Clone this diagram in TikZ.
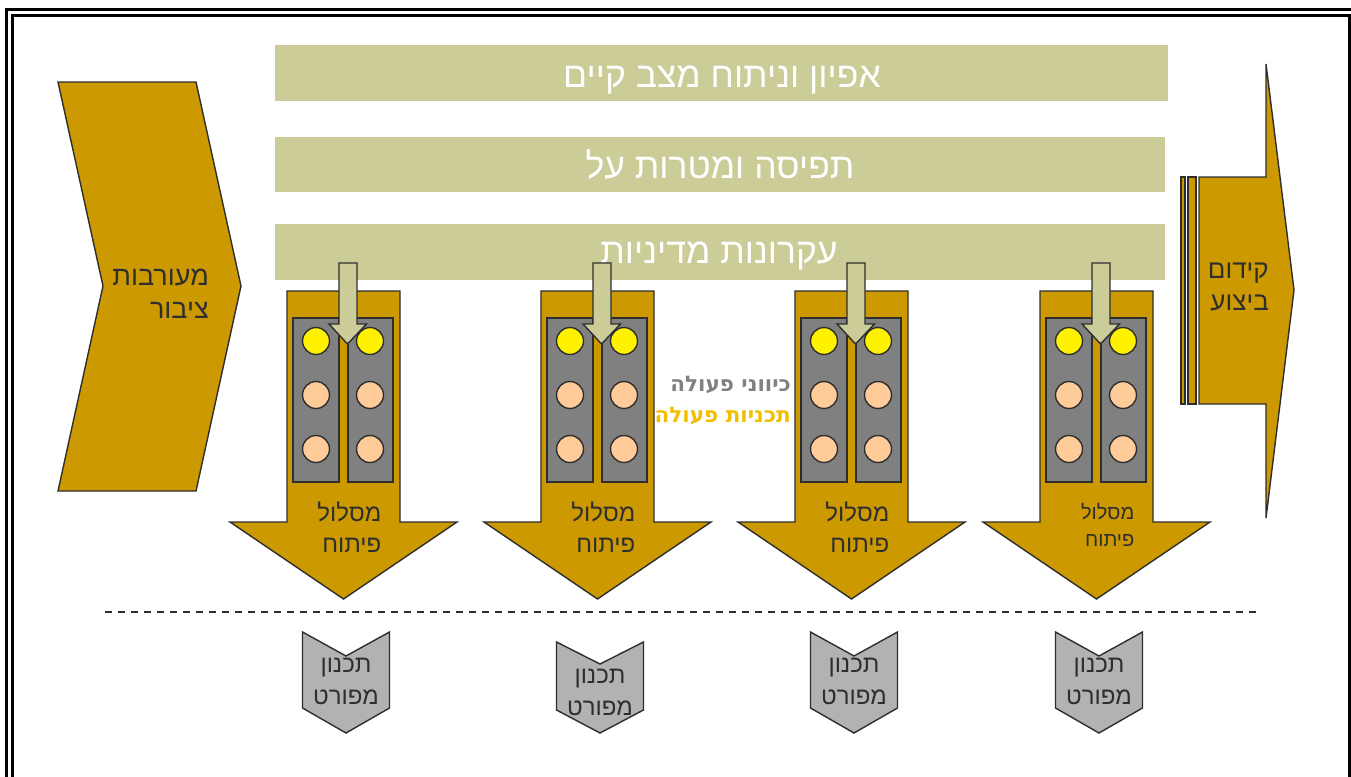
\documentclass[tikz,border=0pt]{standalone}
\usepackage{fontspec}
\setmainfont[Script=Hebrew, BoldFont={Liberation Sans Bold}]{Liberation Sans}
\newfontfamily\labelfont[Script=Hebrew]{DejaVu Sans}
\TeXXeTstate=1
\newcommand\heb[1]{\beginR #1\endR}
\definecolor{gold}{HTML}{CC9900}
\definecolor{khaki}{HTML}{CCCC99}
\definecolor{panel}{HTML}{808080}
\definecolor{peach}{HTML}{FFCC99}
\definecolor{chip}{HTML}{B2B2B2}
\definecolor{ink}{HTML}{2E2E2E}
\definecolor{planyellow}{HTML}{F2BE00}
\definecolor{dirgray}{HTML}{808080}
\tikzset{
  outline/.style={draw=ink, line width=1.4pt, line join=miter},
  goldshape/.style={outline, fill=gold},
  bandbox/.style={fill=khaki},
  bandtext/.style={text=white, font=\fontsize{35.5}{40}\selectfont, inner sep=0pt, anchor=base},
  shapetext/.style={text=ink, align=right, inner sep=0pt},
  paneldot/.style={outline, fill=#1},
  actiontext/.style={anchor=east, inner sep=0pt, font=\labelfont\bfseries\fontsize{21.5}{26}\selectfont},
}
\begin{document}
\begin{tikzpicture}[x=1pt, y=-1pt]
\useasboundingbox (0,0) rectangle (1351,776);
\clip (0,0) rectangle (1351,776);
\fill[white] (0,0) rectangle (1351,776);

% page frame
\draw[line width=3pt] (6.5,790) -- (6.5,9.5) -- (1370,9.5);
\draw[line width=2.4pt] (12.5,790) -- (12.5,15.5) -- (1349.5,15.5) -- (1349.5,790);

% horizontal bands
\fill[bandbox] (275,45) rectangle (1168,101);
\node[bandtext] (band1) at (722,87) {\heb{אפיון וניתוח מצב קיים}};
\fill[bandbox] (275,137) rectangle (1165,192);
\node[bandtext] (band2) at (720,178) {\heb{תפיסה ומטרות על}};
\fill[bandbox] (275,224) rectangle (1165,280);
\node[bandtext] (band3) at (719,263) {\heb{עקרונות מדיניות}};

% public involvement chevron
\draw[goldshape] (58,82) -- (196,82) -- (241,286) -- (196,491) -- (58,491) -- (103,286) -- cycle;
\node[shapetext, anchor=east, font=\fontsize{27}{33}\selectfont] (involve) at (209,294)
  {\heb{מעורבות}\\\heb{ציבור}};

% execution arrow
\draw[goldshape] (1181,177) rectangle (1185,404);
\draw[goldshape] (1188,177) rectangle (1196,404);
\draw[goldshape] (1199,177) -- (1266,177) -- (1266,64) -- (1294,290) -- (1266,518) -- (1266,404) -- (1199,404) -- cycle;
\node[shapetext, anchor=east, font=\fontsize{26}{32}\selectfont] (execute) at (1269,287)
  {\heb{קידום}\\\heb{ביצוע}};

% action labels
\node[actiontext, text=dirgray] (directions) at (791,385) {\heb{כיווני פעולה}};
\node[actiontext, text=planyellow] (plans) at (791,416) {\heb{תכניות פעולה}};

% development tracks
\foreach \cx/\fs/\ls/\ty [count=\i] in {343.5/24/31/527, 597.5/24/31/527, 851.5/24/31/527, 1096.5/20/27/525}{
  \draw[goldshape] (\cx-56.5,291) -- (\cx+56.5,291) -- (\cx+56.5,522) -- (\cx+113.5,522)
     -- (\cx,599) -- (\cx-113.5,522) -- (\cx-56.5,522) -- cycle;
  \draw[outline, fill=panel] (\cx-50.5,318) rectangle (\cx-4.5,482);
  \draw[outline, fill=panel] (\cx+4.5,318) rectangle (\cx+49.5,482);
  \foreach \dx in {-27.5, 26.5}{
    \draw[paneldot=yellow] (\cx+\dx,341) circle (13.5);
    \draw[paneldot=peach] (\cx+\dx,395) circle (13.5);
    \draw[paneldot=peach] (\cx+\dx,449) circle (13.5);
  }
  \draw[outline, fill=khaki] (\cx-4.5,263) -- (\cx+13.5,263) -- (\cx+13.5,324) -- (\cx+23,324)
     -- (\cx+4,344) -- (\cx-14.5,324) -- (\cx-4.5,324) -- cycle;
  \node[shapetext, anchor=east, font=\fontsize{\fs}{\ls}\selectfont] (track\i) at (\cx+38,\ty)
    {\heb{מסלול}\\\heb{פיתוח}};
}

% separator
\draw[ink, line width=1.3pt, dash pattern=on 7pt off 6pt] (105,612) -- (1258,612);

% detailed planning chips
\foreach \c/\t/\n/\s/\ty [count=\i] in {346/632/656/708/681, 600/642/664/710/692, 854/632/656/708/681, 1099/632/656/708/681}{
  \draw[outline, fill=chip] (\c-43.5,\t) -- (\c,\n) -- (\c+43.5,\t) -- (\c+43.5,\s) -- (\c,733) -- (\c-43.5,\s) -- cycle;
  \node[shapetext, align=center, font=\fontsize{24}{32}\selectfont] (chip\i) at (\c,\ty)
    {\heb{תכנון}\\\heb{מפורט}};
}
\end{tikzpicture}
\end{document}
